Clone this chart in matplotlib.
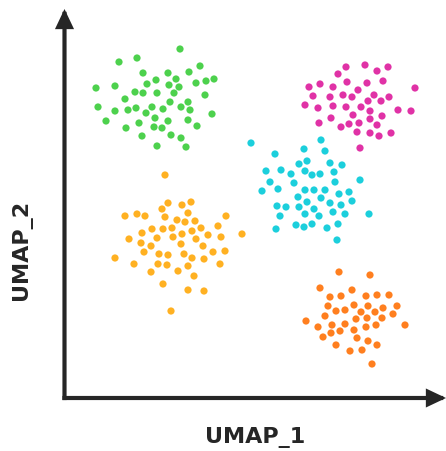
import matplotlib
matplotlib.use("Agg")
import matplotlib.pyplot as plt
import numpy as np

# UMAP coordinates (arbitrary units)
green_x = [115, 54, 72, 135, 78, 103, 124, 91, 111, 82, 104, 114, 131, 141, 149,
           31, 50, 70, 78, 92, 109, 140, 60, 105, 123, 33, 50, 63, 71, 87, 81, 98,
           116, 125, 147, 41, 74, 90, 103, 123, 61, 89, 97, 132, 77, 106, 116, 92, 121]
green_y = [351, 338, 342, 334, 327, 327, 328, 320, 321, 316, 315, 313, 317, 319, 321,
           312, 314, 308, 307, 307, 307, 305, 301, 298, 298, 293, 289, 290, 292, 293, 287, 291,
           293, 290, 286, 279, 277, 282, 279, 280, 272, 273, 272, 274, 264, 265, 262, 254, 253]

magenta_x = [281, 300, 312, 323, 273, 282, 302, 318, 244, 255, 268, 350, 293, 248, 265,
             278, 287, 309, 324, 240, 253, 268, 281, 303, 316, 296, 305, 333, 346, 288,
             317, 254, 266, 276, 284, 294, 305, 312, 292, 305, 314, 326, 295]
magenta_y = [333, 335, 329, 333, 326, 318, 317, 319, 313, 316, 313, 312, 310, 304, 303,
             305, 303, 305, 303, 295, 292, 294, 293, 299, 299, 293, 289, 290, 289, 285,
             284, 277, 282, 273, 276, 277, 281, 275, 268, 267, 264, 267, 252]

cyan_x = [186, 256, 239, 260, 210, 234, 242, 265, 277, 201, 216, 226, 240, 247, 255,
          269, 205, 229, 270, 295, 197, 213, 240, 249, 260, 274, 284, 233, 256, 287,
          242, 265, 276, 212, 221, 234, 249, 215, 240, 254, 268, 280, 304, 211, 231,
          239, 247, 262, 273, 272]
cyan_y = [257, 260, 251, 249, 246, 236, 239, 237, 235, 229, 230, 226, 229, 225, 226,
          228, 218, 217, 218, 220, 209, 211, 210, 210, 210, 206, 208, 203, 202, 199,
          198, 197, 195, 194, 193, 193, 191, 184, 186, 184, 188, 186, 186, 171, 175,
          173, 176, 172, 176, 160]

yellow_x = [100, 103, 117, 126, 97, 123, 60, 72, 80, 100, 112, 120, 130, 161, 87, 98,
            107, 127, 136, 153, 77, 117, 143, 64, 92, 108, 131, 156, 177, 76, 86, 116,
            138, 79, 94, 103, 119, 127, 148, 160, 50, 69, 93, 102, 123, 139, 155, 86,
            113, 129, 98, 123, 139, 106]
yellow_y = [225, 197, 195, 198, 191, 187, 184, 186, 184, 183, 180, 178, 179, 184, 171, 171,
            172, 169, 172, 174, 167, 166, 165, 161, 162, 163, 161, 163, 166, 157, 154, 156,
            154, 148, 146, 145, 146, 142, 148, 149, 142, 136, 136, 135, 134, 141, 136, 128,
            129, 124, 116, 110, 109, 89]

orange_x = [274, 305, 255, 287, 265, 276, 301, 312, 324, 263, 271, 280, 289, 296, 303,
            310, 318, 332, 260, 241, 291, 302, 317, 328, 253, 267, 280, 311, 340, 275,
            289, 301, 258, 266, 292, 303, 312, 271, 285, 297, 307]
orange_y = [128, 125, 112, 110, 103, 104, 104, 105, 105, 94, 89, 90, 95, 88, 94,
            88, 92, 94, 84, 79, 81, 82, 82, 86, 73, 75, 76, 75, 75, 69,
            70, 73, 63, 67, 62, 59, 55, 55, 49, 50, 36]

clusters = [
    (green_x, green_y, "#4dd14d"),
    (magenta_x, magenta_y, "#e032a6"),
    (cyan_x, cyan_y, "#1ccfdc"),
    (yellow_x, yellow_y, "#ffb122"),
    (orange_x, orange_y, "#ff7f1f"),
]

W, H = 446, 451
fig = plt.figure(figsize=(W / 100, H / 100), dpi=100)
left_px, right_px, bottom_px, top_px = 64.5, 446, 398, 9
ax = fig.add_axes([left_px / W, 1 - bottom_px / H,
                   (right_px - left_px) / W, (bottom_px - top_px) / H])
ax.set_xlim(-0.5, 381)
ax.set_ylim(2, 391)
ax.axis("off")

for xs, ys, c in clusters:
    ax.scatter(xs, ys, s=27, color=c, edgecolors="none", zorder=3)

axis_color = "#262626"
for end in [(1, 0), (0, 1)]:
    ax.annotate("", xy=end, xytext=(0, 0), xycoords="axes fraction",
                textcoords="axes fraction",
                arrowprops=dict(arrowstyle="-|>,head_length=0.95,head_width=0.45",
                                mutation_scale=10, lw=3, color=axis_color,
                                shrinkA=0, shrinkB=0, capstyle="projecting",
                                joinstyle="miter"),
                annotation_clip=False)

fig.text(255 / W, 1 - 438 / H, "UMAP_1", ha="center", va="center",
         fontsize=16, fontweight="bold", color=axis_color)
fig.text(22 / W, 1 - 250 / H, "UMAP_2", ha="center", va="center",
         rotation=90, fontsize=16, fontweight="bold", color=axis_color)

fig.savefig("out.png", dpi=100)
